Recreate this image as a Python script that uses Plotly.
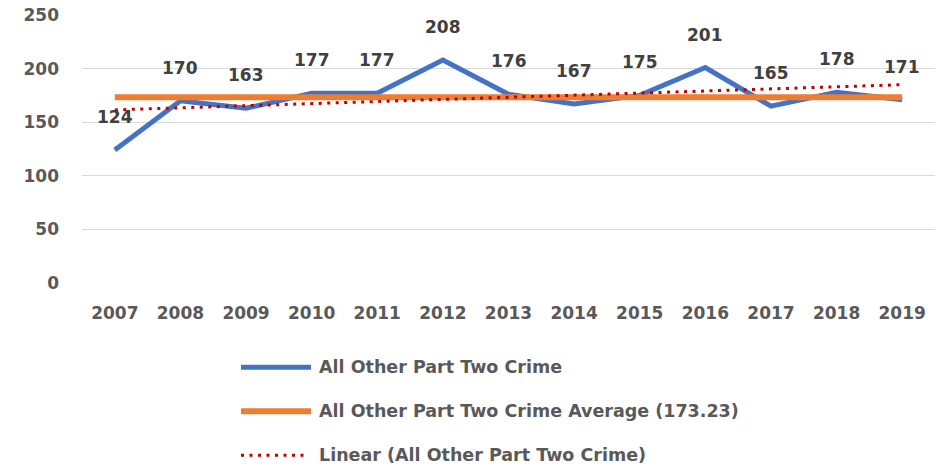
import numpy as np
import plotly.graph_objects as go

years = ["2007", "2008", "2009", "2010", "2011", "2012", "2013",
         "2014", "2015", "2016", "2017", "2018", "2019"]
crime = [124, 170, 163, 177, 177, 208, 176, 167, 175, 201, 165, 178, 171]
series_name = "All Other Part Two Crime"
avg_name = "All Other Part Two Crime Average (173.23)"
trend_name = "Linear (All Other Part Two Crime)"
y_ticks = [0, 50, 100, 150, 200, 250]

avg_val = float(np.mean(crime))
xi = np.arange(len(crime))
slope, intercept = np.polyfit(xi, crime, 1)
trend = list(slope * xi + intercept)
avg = [avg_val] * len(crime)

FONT = "DejaVu Sans"
BLUE = "#4472C4"
ORANGE = "#ED7D31"
RED = "#C00000"
GREY = "#595959"

fig = go.Figure()
fig.add_trace(go.Scatter(x=years, y=crime, mode="lines", name=series_name,
                         line=dict(color=BLUE, width=5), showlegend=False))
fig.add_trace(go.Scatter(x=years, y=avg, mode="lines", name=avg_name,
                         line=dict(color=ORANGE, width=6), showlegend=False))
fig.add_trace(go.Scatter(x=years, y=trend, mode="lines", name=trend_name,
                         line=dict(color=RED, width=3, dash="3px,5.5px"),
                         showlegend=False))

for i, v in enumerate(crime):
    fig.add_annotation(x=i, y=v, xref="x", yref="y", text=str(v), showarrow=False,
                       yshift=33,
                       font=dict(family=FONT, size=17, color="#404040", weight="bold"))

# custom legend (Excel-style, long line samples)
L, W_, B, H = 82, 853, 282.7, 268
def px(x):
    return (x - L) / W_
def py(y):
    return (B - y) / H

legend_items = [(series_name, BLUE, 5, "solid", 367),
                (avg_name, ORANGE, 6, "solid", 411),
                (trend_name, RED, 3, "dot", 455)]
for name, col, w, dash, yy in legend_items:
    if dash == "dot":
        fig.add_shape(type="line", xref="paper", yref="paper",
                      x0=px(241), x1=px(305), y0=py(yy), y1=py(yy),
                      line=dict(color=col, width=w, dash="3px,5.5px"))
    else:
        fig.add_shape(type="line", xref="paper", yref="paper",
                      x0=px(241), x1=px(311), y0=py(yy), y1=py(yy),
                      line=dict(color=col, width=w))
    fig.add_annotation(xref="paper", yref="paper", x=px(317), y=py(yy),
                       xanchor="left", yanchor="middle", text=name, showarrow=False,
                       font=dict(family=FONT, size=17.5, color=GREY, weight="bold"))

fig.update_layout(
    width=948, height=472,
    margin=dict(l=82, r=13, t=15, b=189.3),
    plot_bgcolor="white", paper_bgcolor="white",
    font=dict(family=FONT, size=17, color=GREY, weight="bold"),
    showlegend=False,
)
fig.update_xaxes(type="category", range=[-0.5, 12.5], showgrid=False,
                 showline=False, zeroline=False, ticks="", ticklen=0, automargin=False,
                 ticklabelstandoff=18,
                 tickfont=dict(family=FONT, size=17, color=GREY, weight="bold"))
fig.update_yaxes(range=[0, 250], tickvals=y_ticks, showgrid=True,
                 gridcolor="#D9D9D9", gridwidth=1, zeroline=False, showline=False,
                 ticks="", ticklabelstandoff=22, automargin=False,
                 tickfont=dict(family=FONT, size=17, color=GREY, weight="bold"))

fig.write_html("out.html", config={"displayModeBar": False},
               post_script="document.body.style.margin='0';")
